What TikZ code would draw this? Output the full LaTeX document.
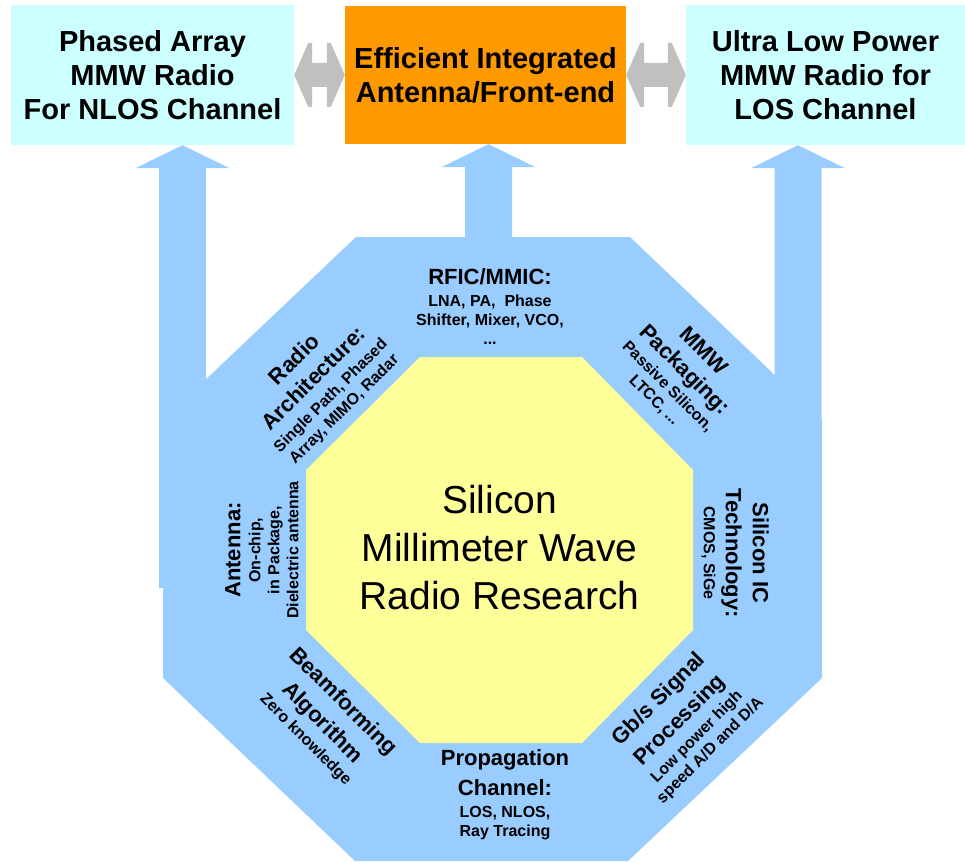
\documentclass[tikz,border=0pt]{standalone}
\usepackage{fontspec}
\setmainfont{Liberation Sans}
\usetikzlibrary{calc}

\definecolor{skyblue}{HTML}{99CCFF}
\definecolor{paleyellow}{HTML}{FFFF99}
\definecolor{palecyan}{HTML}{CCFFFF}
\definecolor{frontorange}{HTML}{FF9900}
\definecolor{silvergray}{HTML}{C0C0C0}

\newcommand\lbltitle{\fontsize{22}{27}\selectfont\bfseries}
\newcommand\lblbody{\fontsize{16}{19}\selectfont\bfseries}

\begin{document}
\begin{tikzpicture}[x=1pt,y=-1pt,
  topbox/.style={minimum width=#1, minimum height=140pt, inner sep=0pt,
    align=center, font=\fontsize{29}{34}\selectfont\bfseries},
  core/.style={inner sep=0pt, align=center, font=\fontsize{39}{48}\selectfont},
  lbl/.style={align=center, inner sep=0pt, font=\lblbody}
  ]
  \useasboundingbox (0,0) rectangle (965,861);

  % top row
  \node[topbox=283pt, fill=palecyan] (nlos) at (152.5,75)
    {Phased Array\\MMW Radio\\For NLOS Channel};
  \node[topbox=281pt, minimum height=138pt, fill=frontorange] (front) at (485.5,75)
    {Efficient Integrated\\Antenna/Front-end};
  \node[topbox=279pt, fill=palecyan] (los) at (825.5,75)
    {Ultra Low Power\\MMW Radio for\\LOS Channel};

  \foreach \a/\b in {nlos/front, front/los}
    \fill[silvergray] (\a.east) -- ($(\a.east)+(14,-32)$) -- ($(\a.east)+(18,-32)$)
      -- ($(\a.east)+(18,-12)$) -- ($(\b.west)+(-18,-12)$) -- ($(\b.west)+(-18,-32)$)
      -- ($(\b.west)+(-14,-32)$) -- (\b.west) -- ($(\b.west)+(-14,32)$)
      -- ($(\b.west)+(-18,32)$) -- ($(\b.west)+(-18,12)$) -- ($(\a.east)+(18,12)$)
      -- ($(\a.east)+(18,32)$) -- ($(\a.east)+(14,32)$) -- cycle;

  % big octagon and the three arrows
  \fill[skyblue] (356,237) -- (630,237) -- (822,420) -- (822,678) -- (628,861)
    -- (355,861) -- (163,678) -- (163,420) -- cycle;
  \foreach \b/\dx/\len in {nlos/30/420, front/3/80, los/-27.5/300}
    \fill[skyblue] ($(\b.south)+(\dx,0)$) -- ++(47,23) -- ++(-23.5,0) -- ++(0,\len)
      -- ++(-47,0) -- ++(0,-\len) -- ++(-23.5,0) -- cycle;

  % inner octagon
  \fill[paleyellow] (420,357) -- (582,357) -- (693,470) -- (693,630) -- (582,743)
    -- (420,743) -- (306,630) -- (306,470) -- cycle;
  \node[core] (core) at (499.5,548) {Silicon\\Millimeter Wave\\Radio Research};

  % labels round the core
  \node[lbl] (rfic) at (490,307)
    {\lbltitle RFIC/MMIC:\\[3pt]\lblbody LNA, PA,\ \ Phase\\\lblbody Shifter, Mixer, VCO,\\\lblbody ...};
  \node[lbl, rotate=45] (arch) at (319,384)
    {\lbltitle Radio\\[8pt]\lbltitle Architecture:\\[3pt]\lblbody Single Path, Phased\\\lblbody Array, MIMO, Radar};
  \node[lbl, rotate=-45] (pack) at (679.5,375)
    {\lbltitle MMW\\[8pt]\lbltitle Packaging:\\[3pt]\lblbody Passive Silicon,\\\lblbody LTCC, ...};
  \node[lbl, rotate=90] (ant) at (262,550)
    {\lbltitle Antenna:\\[1pt]\lblbody On-chip,\\\lblbody in Package,\\\lblbody Dielectric antenna};
  \node[lbl, rotate=-90] (sict) at (735,553)
    {\lbltitle Silicon IC\\[8pt]\lbltitle Technology:\\[3pt]\lblbody CMOS, SiGe};
  \node[lbl, rotate=-45] (beam) at (325,720)
    {\lbltitle Beamforming\\[8pt]\lbltitle Algorithm\\[3pt]\lblbody Zero knowledge};
  \node[lbl, rotate=45] (gbs) at (684,724)
    {\lbltitle Gb/s Signal\\[8pt]\lbltitle Processing\\[3pt]\lblbody Low power high\\\lblbody speed A/D and D/A};
  \node[lbl] (prop) at (505,795)
    {\lbltitle Propagation\\[8pt]\lbltitle Channel:\\[3pt]\lblbody LOS, NLOS,\\\lblbody Ray Tracing};
\end{tikzpicture}
\end{document}
